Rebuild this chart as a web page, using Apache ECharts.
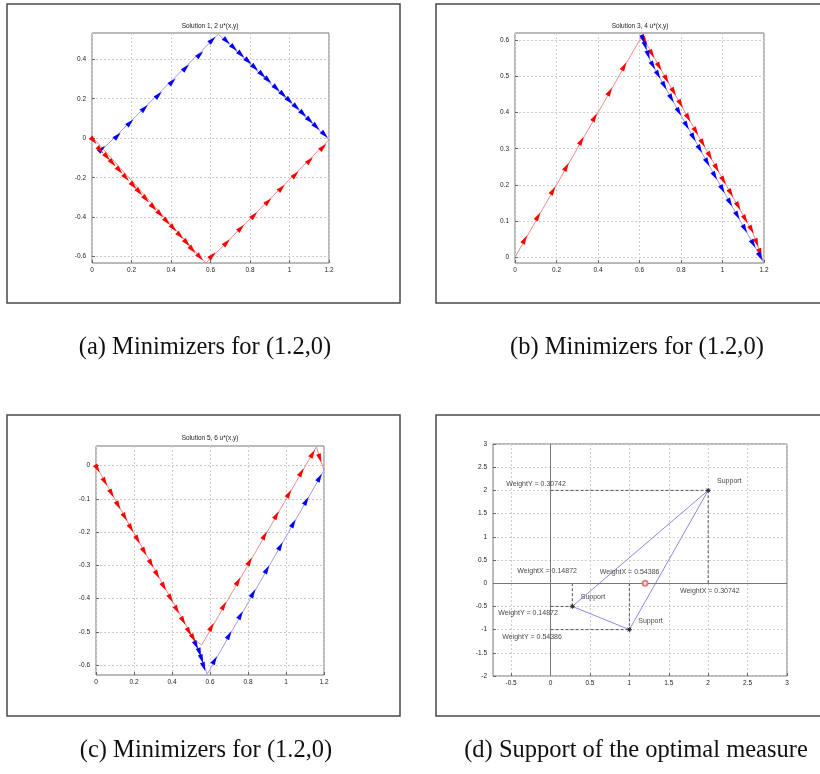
<!DOCTYPE html>
<html>
<head>
<meta charset="utf-8">
<script src="https://cdn.jsdelivr.net/npm/echarts@6/dist/echarts.min.js"></script>
<style>
  html, body { margin: 0; padding: 0; background: #fff; }
  #chart { width: 820px; height: 774px; }
</style>
</head>
<body>
<div id="chart"></div>
<script>
// ---- data ----
// tick values
var xTicks = [0, 0.2, 0.4, 0.6, 0.8, 1, 1.2]
var aYTicks = [-0.6, -0.4, -0.2, 0, 0.2, 0.4]
var bYTicks = [0, 0.1, 0.2, 0.3, 0.4, 0.5, 0.6]
var cYTicks = [-0.6, -0.5, -0.4, -0.3, -0.2, -0.1, 0]
var dXTicks = [-0.5, 0, 0.5, 1, 1.5, 2, 2.5, 3]
var dYTicks = [-2, -1.5, -1, -0.5, 0, 0.5, 1, 1.5, 2, 2.5, 3]

// axis ranges [xmin, xmax, ymin, ymax]
var aRange = [0, 1.2, -0.632, 0.533]
var bRange = [0, 1.2, -0.016, 0.62]
var cRange = [0, 1.2, -0.63, 0.059]
var dRange = [-0.73, 3, -2, 3]

// (a) Solution 1, 2
var aBluePath = [[0.05, -0.06], [0.64, 0.527], [1.2, -0.008]]
var aBlueArrows = [[0.05, -0.054], [0.129, 0.012], [0.193, 0.079], [0.266, 0.152], [0.337, 0.219],
  [0.407, 0.287], [0.475, 0.357], [0.547, 0.425], [0.609, 0.498],
  [0.682, 0.492], [0.719, 0.458], [0.755, 0.424], [0.791, 0.39], [0.825, 0.357], [0.862, 0.322],
  [0.892, 0.294], [0.934, 0.253], [0.968, 0.221], [1.0, 0.19], [1.035, 0.157], [1.069, 0.124],
  [1.103, 0.09], [1.136, 0.058], [1.178, 0.018]]
var aRedPath = [[0, 0.008], [0.576, -0.633], [1.2, -0.008]]
var aRedArrows = [[0.008, -0.012], [0.042, -0.06], [0.076, -0.095], [0.104, -0.125], [0.139, -0.163],
  [0.172, -0.2], [0.21, -0.24], [0.239, -0.272], [0.273, -0.308], [0.311, -0.35], [0.345, -0.385],
  [0.379, -0.422], [0.412, -0.456], [0.446, -0.494], [0.48, -0.53], [0.508, -0.564], [0.547, -0.603],
  [0.609, -0.594], [0.682, -0.528], [0.754, -0.455], [0.821, -0.39], [0.892, -0.32], [0.96, -0.252],
  [1.03, -0.184], [1.103, -0.112], [1.17, -0.045]]

// (b) Solution 3, 4
var bRedPath = [[0, 0], [0.612, 0.612], [1.145, 0.07], [1.2, -0.016]]
var bRedArrows = [[0.047, 0.049], [0.111, 0.113], [0.183, 0.184], [0.248, 0.25], [0.32, 0.322],
  [0.384, 0.387], [0.457, 0.458], [0.526, 0.528],
  [0.626, 0.598], [0.66, 0.562], [0.695, 0.527], [0.73, 0.492], [0.765, 0.457], [0.798, 0.424],
  [0.835, 0.385], [0.872, 0.348], [0.905, 0.315], [0.939, 0.28], [0.972, 0.246], [1.005, 0.212],
  [1.04, 0.177], [1.076, 0.141], [1.11, 0.105], [1.14, 0.076], [1.165, 0.04], [1.182, 0.012]]
var bBluePath = [[0.612, 0.612], [0.65, 0.545], [1.2, -0.016]]
var bBlueArrows = [[0.617, 0.603], [0.628, 0.584], [0.642, 0.559], [0.665, 0.53], [0.69, 0.504],
  [0.72, 0.474], [0.754, 0.439], [0.79, 0.402], [0.827, 0.364], [0.86, 0.331], [0.891, 0.299],
  [0.927, 0.262], [0.963, 0.225], [1.0, 0.188], [1.036, 0.151], [1.072, 0.115], [1.108, 0.078],
  [1.148, 0.037], [1.182, 0.002]]

// (c) Solution 5, 6
var cRedPath = [[0, 0], [0.515, -0.522], [0.556, -0.54], [1.16, 0.056], [1.2, -0.014]]
var cRedArrows = [[0.007, -0.009], [0.047, -0.049], [0.082, -0.084], [0.117, -0.12], [0.152, -0.155],
  [0.184, -0.188], [0.219, -0.223], [0.254, -0.259], [0.29, -0.295], [0.322, -0.328], [0.357, -0.364],
  [0.393, -0.4], [0.426, -0.434], [0.459, -0.467], [0.49, -0.5], [0.512, -0.519],
  [0.608, -0.485], [0.673, -0.421], [0.748, -0.348], [0.809, -0.288], [0.888, -0.21], [0.95, -0.149],
  [1.016, -0.084], [1.081, -0.02], [1.14, 0.036], [1.178, 0.022]]
var cBluePath = [[0.515, -0.525], [0.545, -0.56], [0.585, -0.628], [1.2, -0.014]]
var cBlueArrows = [[0.527, -0.54], [0.545, -0.562], [0.556, -0.582], [0.567, -0.605],
  [0.625, -0.585], [0.701, -0.51], [0.761, -0.45], [0.827, -0.384], [0.9, -0.312], [0.971, -0.242],
  [1.039, -0.174], [1.107, -0.106], [1.177, -0.036]]

// (d) support of the optimal measure
var supportX = [0.2764, 1, 2]
var supportY = [-0.5, -1, 2]
var targetPoint = [1.2, 0]
var dLabelText = ['WeightY = 0.30742', 'Support', 'WeightX = 0.14872', 'WeightX = 0.54386',
  'WeightX = 0.30742', 'Support', 'WeightY = 0.14872', 'Support', 'WeightY = 0.54386']
var dLabelPos = [[-0.568, 2.13], [2.106, 2.2], [-0.428, 0.253], [0.619, 0.23],
  [1.636, -0.18], [0.377, -0.303], [-0.67, -0.65], [1.106, -0.816], [-0.619, -1.155]]

var titles = ['Solution 1, 2 u*(x,y)', 'Solution 3, 4 u*(x,y)', 'Solution 5, 6 u*(x,y)']
var captions = ['(a) Minimizers for (1.2,0)', '(b) Minimizers for (1.2,0)',
  '(c) Minimizers for (1.2,0)', '(d) Support of the optimal measure']

// ---- layout ----
var grids = [
  {left: 92, top: 33, width: 237, height: 230},
  {left: 515, top: 33, width: 249, height: 230},
  {left: 96, top: 446, width: 228, height: 229},
  {left: 493, top: 444, width: 294, height: 232}
]
var frames = [[7, 4, 393, 299], [436, 4, 390, 299], [7, 415, 393, 301], [436, 415, 390, 301]]
var titlePos = [[210, 26], [640, 26], [210, 438]]
var captionPos = [[205, 348], [637, 348], [206, 751], [636, 751]]

var tickFont = 'Liberation Sans'
var blue = '#0000ff'
var red = '#ff0000'
var blueLine = '#9d9de6'
var redLine = '#f08c8c'

var chart = echarts.init(document.getElementById('chart'))

function makeX (i, range, ticks) {
  return {
    gridIndex: i, type: 'value', min: range[0], max: range[1],
    axisLine: {show: false, onZero: false},
    axisTick: {show: true, inside: true, length: 3, customValues: ticks, lineStyle: {color: '#666'}},
    axisLabel: {customValues: ticks, fontSize: 6.5, color: '#222', margin: 4, fontFamily: tickFont},
    splitLine: {show: true, lineStyle: {color: '#cdcdcd', type: [2, 2], width: 1}}
  }
}
function makeY (i, range, ticks) {
  return {
    gridIndex: i, type: 'value', min: range[2], max: range[3],
    axisLine: {show: false, onZero: false},
    axisTick: {show: true, inside: true, length: 3, customValues: ticks, lineStyle: {color: '#666'}},
    axisLabel: {customValues: ticks, fontSize: 6.5, color: '#222', margin: 6, fontFamily: tickFont},
    splitLine: {show: true, lineStyle: {color: '#cdcdcd', type: [2, 2], width: 1}}
  }
}

// direction of the path segment closest to an arrow
function segDir (p, path) {
  var best = null
  var bd = Infinity
  for (var k = 0; k < path.length - 1; k++) {
    var a = path[k], b = path[k + 1]
    var vx = b[0] - a[0], vy = b[1] - a[1]
    var t = ((p[0] - a[0]) * vx + (p[1] - a[1]) * vy) / (vx * vx + vy * vy)
    t = Math.max(0, Math.min(1, t))
    var d = Math.hypot(a[0] + t * vx - p[0], a[1] + t * vy - p[1])
    if (d < bd) { bd = d; best = [vx, vy] }
  }
  var l = Math.hypot(best[0], best[1])
  return [best[0] / l, best[1] / l]
}

function pathSeries (path, color, i) {
  return {
    type: 'line', xAxisIndex: i, yAxisIndex: i, data: path, showSymbol: false,
    silent: true, z: 3, lineStyle: {color: color, width: 1}
  }
}

function arrowSeries (arrows, path, color, i) {
  var data = arrows.map(function (p) {
    var d = segDir(p, path)
    return [p[0], p[1], d[0], d[1]]
  })
  return {
    type: 'custom', xAxisIndex: i, yAxisIndex: i, data: data, z: 5, silent: true,
    encode: {x: 0, y: 1},
    renderItem: function (params, api) {
      var x = api.value(0), y = api.value(1)
      var p = api.coord([x, y])
      var q = api.coord([x + api.value(2) * 0.01, y + api.value(3) * 0.01])
      var dx = q[0] - p[0], dy = q[1] - p[1]
      var len = Math.hypot(dx, dy) || 1
      dx /= len; dy /= len
      var L = 4.5, W = 2.5
      var tip = [p[0] + dx * L, p[1] + dy * L]
      var bx = p[0] - dx * L, by = p[1] - dy * L
      return {
        type: 'polygon',
        shape: {points: [tip, [bx - dy * W, by + dx * W], [bx + dy * W, by - dx * W]]},
        style: {fill: color}
      }
    }
  }
}

var series = [
  pathSeries(aBluePath, blueLine, 0), pathSeries(aRedPath, redLine, 0),
  arrowSeries(aBlueArrows, aBluePath, blue, 0), arrowSeries(aRedArrows, aRedPath, red, 0),
  pathSeries(bRedPath, redLine, 1), pathSeries(bBluePath, blueLine, 1),
  arrowSeries(bRedArrows, bRedPath, red, 1), arrowSeries(bBlueArrows, bBluePath, blue, 1),
  pathSeries(cRedPath, redLine, 2), pathSeries(cBluePath, blueLine, 2),
  arrowSeries(cRedArrows, cRedPath, red, 2), arrowSeries(cBlueArrows, cBluePath, blue, 2)
]

// (d) triangle through the support points, with the x=0 / y=0 axis lines
var tri = supportX.map(function (x, k) { return [x, supportY[k]] })
series.push({
  type: 'line', xAxisIndex: 3, yAxisIndex: 3, data: [tri[0], tri[2], tri[1], tri[0]],
  showSymbol: false, silent: true, z: 3, lineStyle: {color: '#8a8ae0', width: 1},
  markLine: {
    silent: true, symbol: 'none', label: {show: false}, animation: false,
    lineStyle: {color: '#777', type: 'solid', width: 1},
    data: [{xAxis: 0}, {yAxis: 0}]
  }
})
// dashed projections of each support point onto the axes
supportX.forEach(function (x, k) {
  var y = supportY[k]
  series.push({
    type: 'line', xAxisIndex: 3, yAxisIndex: 3, data: [[0, y], [x, y]], showSymbol: false,
    silent: true, z: 2, lineStyle: {color: '#555', width: 1, type: [3, 2]}
  })
  series.push({
    type: 'line', xAxisIndex: 3, yAxisIndex: 3, data: [[x, 0], [x, y]], showSymbol: false,
    silent: true, z: 2, lineStyle: {color: '#555', width: 1, type: [3, 2]}
  })
})
// asterisk markers at the support points
series.push({
  type: 'custom', xAxisIndex: 3, yAxisIndex: 3, data: tri, z: 6, silent: true,
  encode: {x: 0, y: 1},
  renderItem: function (params, api) {
    var p = api.coord([api.value(0), api.value(1)])
    var r = 2.5, s = 1.8
    var st = {stroke: '#333', lineWidth: 1}
    return {
      type: 'group',
      children: [
        {type: 'line', shape: {x1: p[0] - r, y1: p[1], x2: p[0] + r, y2: p[1]}, style: st},
        {type: 'line', shape: {x1: p[0], y1: p[1] - r, x2: p[0], y2: p[1] + r}, style: st},
        {type: 'line', shape: {x1: p[0] - s, y1: p[1] - s, x2: p[0] + s, y2: p[1] + s}, style: st},
        {type: 'line', shape: {x1: p[0] - s, y1: p[1] + s, x2: p[0] + s, y2: p[1] - s}, style: st},
        {type: 'circle', shape: {cx: p[0], cy: p[1], r: 1.3}, style: {fill: '#333'}}
      ]
    }
  }
})
series.push({
  type: 'scatter', xAxisIndex: 3, yAxisIndex: 3, data: [targetPoint], symbol: 'emptyCircle',
  symbolSize: 5, silent: true, z: 6, itemStyle: {color: '#e05a5a', borderWidth: 0.8}
})
series.push({
  type: 'scatter', xAxisIndex: 3, yAxisIndex: 3, data: dLabelPos, symbolSize: 1, silent: true, z: 7,
  itemStyle: {color: 'rgba(0,0,0,0)'},
  label: {
    show: true, position: 'right', distance: 0, fontSize: 7, color: '#111', fontFamily: tickFont,
    formatter: function (p) { return dLabelText[p.dataIndex] }
  }
})

var graphic = []
frames.forEach(function (f) {
  graphic.push({
    type: 'rect', shape: {x: f[0], y: f[1], width: f[2], height: f[3]}, silent: true,
    style: {fill: 'none', stroke: '#4a4a4a', lineWidth: 1.5}
  })
})
titles.forEach(function (t, k) {
  graphic.push({
    type: 'text', x: titlePos[k][0], y: titlePos[k][1], silent: true,
    style: {text: t, fill: '#222', fontSize: 6.5, fontFamily: tickFont,
      textAlign: 'center', textVerticalAlign: 'middle', align: 'center', verticalAlign: 'middle'}
  })
})
captions.forEach(function (t, k) {
  graphic.push({
    type: 'text', x: captionPos[k][0], y: captionPos[k][1], silent: true,
    style: {text: t, fill: '#111', fontSize: 24.5, fontFamily: 'Liberation Serif',
      textAlign: 'center', textVerticalAlign: 'middle', align: 'center', verticalAlign: 'middle'}
  })
})

chart.setOption({
  animation: false,
  backgroundColor: '#fff',
  grid: grids.map(function (g) {
    return Object.assign({show: true, borderColor: '#777', borderWidth: 1, backgroundColor: 'transparent'}, g)
  }),
  xAxis: [makeX(0, aRange, xTicks), makeX(1, bRange, xTicks), makeX(2, cRange, xTicks), makeX(3, dRange, dXTicks)],
  yAxis: [makeY(0, aRange, aYTicks), makeY(1, bRange, bYTicks), makeY(2, cRange, cYTicks), makeY(3, dRange, dYTicks)],
  graphic: graphic,
  series: series
})
</script>
</body>
</html>
